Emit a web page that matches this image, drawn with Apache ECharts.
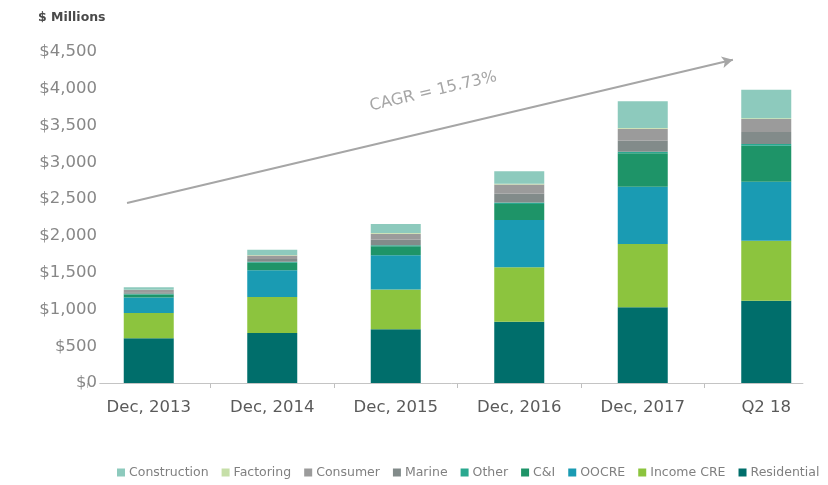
<!DOCTYPE html>
<html>
<head>
<meta charset="utf-8">
<script src="https://cdn.jsdelivr.net/npm/echarts@6/dist/echarts.min.js"></script>
<style>
  html, body { margin: 0; padding: 0; background: #ffffff; }
  #chart { width: 828px; height: 485px; }
</style>
</head>
<body>
<div id="chart"></div>
<script>
// Loan portfolio by type, $ millions
const categories = ['Dec, 2013', 'Dec, 2014', 'Dec, 2015', 'Dec, 2016', 'Dec, 2017', 'Q2 18'];

const residential  = [607, 680, 730, 833, 1029, 1118];
const incomeCRE    = [344, 489, 540, 739, 860, 815];
const oocre        = [213, 363, 466, 643, 779, 802];
const cAndI        = [40, 103, 122, 220, 455, 490];
const other        = [8, 12, 15, 18, 22, 24];
const marine       = [22, 40, 75, 120, 150, 165];
const consumer     = [30, 48, 82, 126, 160, 175];
const factoring    = [4, 6, 8, 10, 12, 12];
const construction = [35, 72, 125, 170, 365, 385];

const yTicks = [0, 500, 1000, 1500, 2000, 2500, 3000, 3500, 4000, 4500];

// Growth arrow endpoints in (category position, $M) space
const cagrLabel = 'CAGR = 15.73%';
const arrowFrom = [-0.176, 2446];
const arrowTo = [4.73, 4395];

// Baseline extent in category position space
const baselineFrom = -0.4;
const baselineTo = 5.3;

const stackOrder = [
  { name: 'Residential',  data: residential,  color: '#006e6b' },
  { name: 'Income CRE',   data: incomeCRE,    color: '#8cc43e' },
  { name: 'OOCRE',        data: oocre,        color: '#1a9bb3' },
  { name: 'C&I',          data: cAndI,        color: '#1e9468' },
  { name: 'Other',        data: other,        color: '#2aa88f' },
  { name: 'Marine',       data: marine,       color: '#828b8a' },
  { name: 'Consumer',     data: consumer,     color: '#9b9b9b' },
  { name: 'Factoring',    data: factoring,    color: '#c6dfa8' },
  { name: 'Construction', data: construction, color: '#8dcabd' }
];

const legendOrder = ['Construction', 'Factoring', 'Consumer', 'Marine', 'Other', 'C&I', 'OOCRE', 'Income CRE', 'Residential'];

const fontFamily = "'DejaVu Sans', Verdana, sans-serif";

const chart = echarts.init(document.getElementById('chart'), null, { renderer: 'canvas' });

const barSeries = stackOrder.map(s => ({
  name: s.name,
  type: 'bar',
  stack: 'loans',
  barWidth: 50,
  data: s.data,
  itemStyle: { color: s.color },
  emphasis: { disabled: true }
}));

// Invisible carrier series for the baseline and CAGR arrow on the overlay value axis
const overlaySeries = {
  name: 'overlay',
  type: 'line',
  xAxisIndex: 1,
  yAxisIndex: 0,
  data: [],
  silent: true,
  markLine: {
    silent: true,
    animation: false,
    label: { show: false },
    data: [
      [
        { coord: arrowFrom, symbol: 'none', lineStyle: { color: '#a6a6a6', width: 2, type: 'solid' } },
        { coord: arrowTo, symbol: 'arrow', symbolSize: [9, 11] }
      ],
      [
        { coord: [baselineFrom, 0], symbol: 'none', lineStyle: { color: '#c4c4c4', width: 1, type: 'solid' } },
        { coord: [baselineTo, 0], symbol: 'none' }
      ]
    ]
  }
};

const titleGraphic = {
  type: 'text',
  left: 38,
  top: 11,
  style: { text: '$ Millions', fill: '#4a4a4a', font: "bold 12.5px " + fontFamily }
};

chart.setOption({
  animation: false,
  backgroundColor: '#ffffff',
  textStyle: { fontFamily: fontFamily },
  grid: { left: 87, top: 52, width: 750, height: 331, containLabel: false },
  legend: {
    data: legendOrder,
    left: 112,
    top: 461,
    itemWidth: 8,
    itemHeight: 8,
    itemGap: 13,
    icon: 'rect',
    textStyle: { color: '#808080', fontSize: 12.5, fontFamily: fontFamily, padding: [0, 0, 0, -1] },
    selectedMode: false
  },
  xAxis: [
    {
      type: 'category',
      data: categories,
      axisLine: { show: false },
      axisTick: { show: true, alignWithLabel: false, length: 5, lineStyle: { color: '#bfbfbf' } },
      axisLabel: { color: '#5a5a5a', fontSize: 16.5, margin: 16, fontFamily: fontFamily }
    },
    {
      type: 'value',
      min: -0.5,
      max: 5.5,
      show: false
    }
  ],
  yAxis: {
    type: 'value',
    min: 0,
    max: 4500,
    interval: 500,
    axisLine: { show: false, onZero: false },
    axisTick: { show: false },
    splitLine: { show: false },
    axisLabel: {
      color: '#878787',
      fontSize: 16.5,
      margin: -10,
      fontFamily: fontFamily,
      formatter: v => yTicks.includes(v) ? '$' + v.toLocaleString('en-US') : ''
    }
  },
  graphic: [titleGraphic],
  series: [...barSeries, overlaySeries]
});

// Place the CAGR caption along the arrow, offset above it
const p0 = chart.convertToPixel({ xAxisIndex: 1, yAxisIndex: 0 }, arrowFrom);
const p1 = chart.convertToPixel({ xAxisIndex: 1, yAxisIndex: 0 }, arrowTo);
const angle = Math.atan2(p0[1] - p1[1], p1[0] - p0[0]);
const t = 0.52;
const mx = p0[0] + (p1[0] - p0[0]) * t;
const my = p0[1] + (p1[1] - p0[1]) * t;
const offset = 38;
const cx = mx - Math.sin(angle) * offset;
const cy = my - Math.cos(angle) * offset;
chart.setOption({
  graphic: [
    titleGraphic,
    {
      type: 'text',
      x: cx,
      y: cy,
      rotation: angle,
      style: {
        text: cagrLabel,
        fill: '#a6a6a6',
        font: "16px " + fontFamily,
        align: 'center',
        verticalAlign: 'middle'
      }
    }
  ]
});
</script>
</body>
</html>
